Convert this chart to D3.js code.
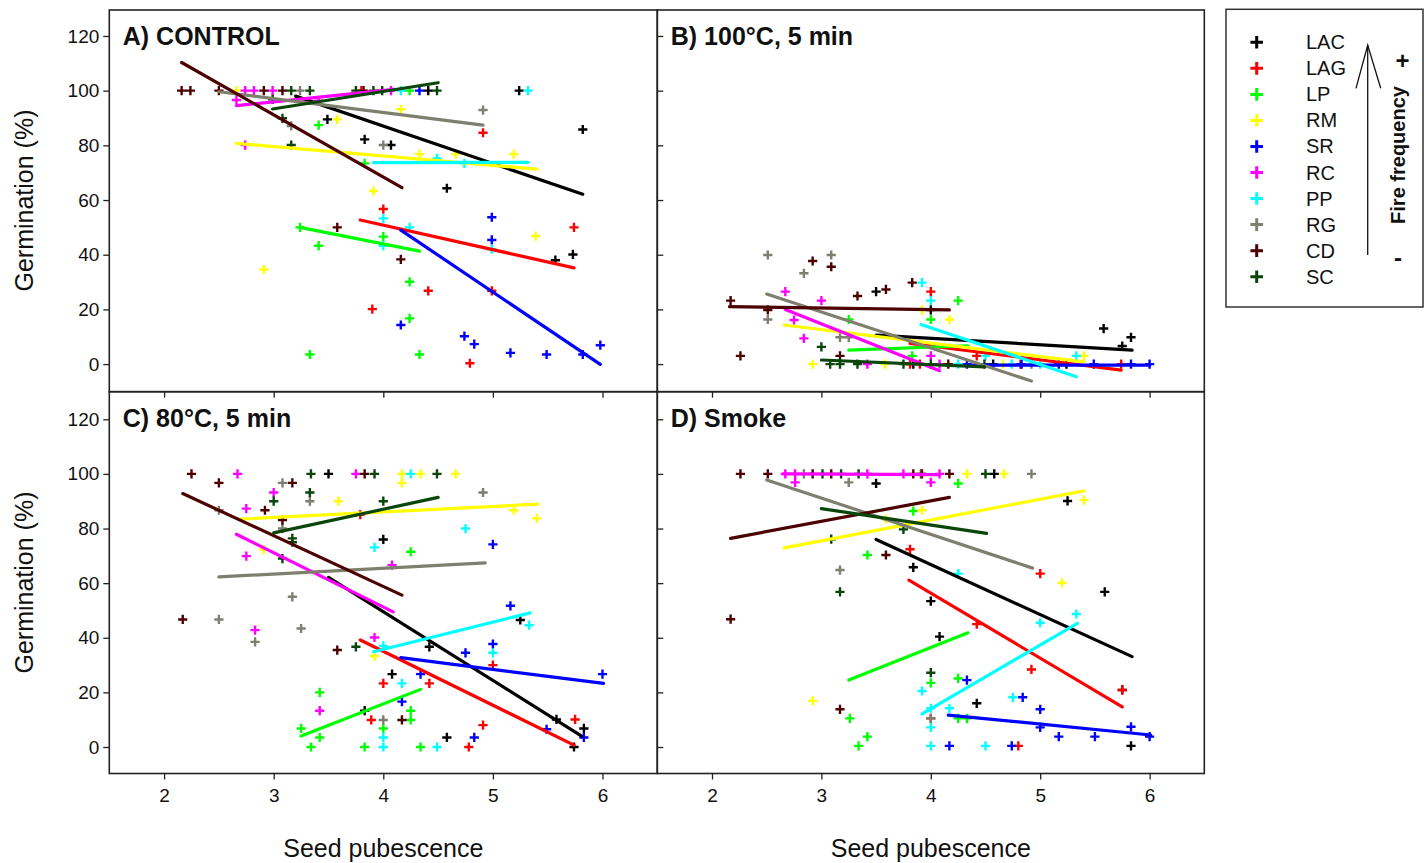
<!DOCTYPE html>
<html><head><meta charset="utf-8">
<script src="https://cdn.jsdelivr.net/npm/d3@7"></script>
<style>
body{margin:0;background:#fff}
svg{display:block}
text{font-family:Arial,"Liberation Sans",sans-serif;fill:#111}
</style>
</head><body>
<svg id="chart" width="1426" height="863"></svg>
<script>
const species = ["LAC","LAG","LP","RM","SR","RC","PP","RG","CD","SC"];
const speciesColors = ["#000000","#ff0000","#00ff00","#ffff00","#0000ff","#ff00ff","#00ffff","#7f7f6f","#4d0000","#0a460a"];
const xTicks = [2,3,4,5,6];
const yTicks = [0,20,40,60,80,100,120];
const panelTitles = ["A) CONTROL","B) 100°C, 5 min","C) 80°C, 5 min","D) Smoke"];

// Panel A: CONTROL  [species, pubescence, germination %]
const pointsA = [
 ["LAC",3.49,89.5],["LAC",3.83,82.2],["LAC",4.07,80.1],["LAC",4.41,100],["LAC",5.24,100],["LAC",5.82,85.8],["LAC",4.58,64.3],["LAC",5.73,40.1],["LAC",5.57,38],
 ["LAG",3.80,100],["LAG",4.0,56.7],["LAG",3.90,20.1],["LAG",4.91,84.6],["LAG",5.74,50],["LAG",4.41,26.8],["LAG",4.99,26.8],["LAG",4.79,0.3],
 ["LP",3.41,87.4],["LP",3.83,73.4],["LP",3.24,50],["LP",3.41,43.3],["LP",4.0,46.6],["LP",3.33,3.5],["LP",4.24,100],["LP",4.24,30.1],["LP",4.24,16.7],["LP",4.33,3.5],
 ["RM",2.66,100],["RM",3.58,89.5],["RM",3.91,63.3],["RM",2.91,34.6],["RM",4.16,93.2],["RM",4.33,76.8],["RM",4.66,76.8],["RM",5.19,76.8],["RM",5.39,46.8],
 ["SR",4.33,100],["SR",4.99,53.7],["SR",4.99,45.4],["SR",4.16,14.3],["SR",4.74,10.2],["SR",4.83,7.3],["SR",5.16,4.1],["SR",5.49,3.5],["SR",5.82,3.5],["SR",5.98,6.9],
 ["RC",2.74,100],["RC",2.82,100],["RC",2.99,100],["RC",4.07,100],["RC",2.66,96.6],["RC",3.41,96.3],["RC",2.74,80.1],
 ["PP",4.16,100],["PP",5.32,100],["PP",4.0,53.3],["PP",4.0,43.3],["PP",4.49,75.2],["PP",4.74,73.4],["PP",4.24,50],["PP",4.99,42],
 ["RG",3.24,100],["RG",3.16,87.1],["RG",4.0,80.1],["RG",4.91,92.9],
 ["CD",2.16,100],["CD",2.24,100],["CD",2.5,100],["CD",2.91,100],["CD",3.08,100],["CD",3.82,100],["CD",3.58,50],["CD",4.16,38.3],
 ["SC",3.16,100],["SC",3.33,100],["SC",3.75,100],["SC",3.91,100],["SC",3.99,100],["SC",4.49,100],["SC",2.99,96.8],["SC",3.08,89.9],["SC",3.16,80.1]
];
// regression lines [species, x1, y1, x2, y2]
const fitsA = [
 ["LAC",3.2,98.0,5.82,62.1],["LAG",3.79,52.7,5.74,35.2],["LP",3.24,50,4.33,41.3],["RM",2.66,80.7,5.40,71.3],
 ["SR",4.16,49,5.98,-0.1],["RC",2.66,94.5,4.1,100.5],["PP",3.91,73.7,5.32,73.8],["RG",2.5,99.6,4.91,87.4],
 ["CD",2.16,110.3,4.17,64.5],["SC",2.99,93.3,4.50,102.9]
];

// Panel B: 100°C, 5 min
const pointsB = [
 ["LAC",3.50,26.5],["LAC",4.0,19.8],["LAC",5.58,13.0],["LAC",5.83,9.8],["LAC",5.75,6.6],["LAC",3.84,0],["LAC",4.57,0],["LAC",5.24,0],
 ["LAG",4.0,26.5],["LAG",3.81,0],["LAG",3.90,0],["LAG",4.42,3],["LAG",4.82,0],["LAG",5.74,0],
 ["LP",4.25,23.2],["LP",3.25,16.3],["LP",4.0,16.3],["LP",3.83,3.0],
 ["RM",3.92,19.8],["RM",4.17,16.3],["RM",5.40,3.0],["RM",2.92,0],["RM",3.58,0],["RM",4.66,0],
 ["SR",4.33,0],["SR",4.83,0],["SR",5.17,0],["SR",5.49,0],["SR",5.83,0],["SR",6.0,0],
 ["RC",2.67,26.5],["RC",3.0,23.2],["RC",2.75,16.1],["RC",2.84,9.4],["RC",4.0,3.0],["RC",3.42,0],["RC",4.08,0],
 ["PP",3.92,29.8],["PP",4.0,23.2],["PP",5.33,3.0],["PP",4.25,0],["PP",4.50,3.0],["PP",4.74,0],["PP",5.0,0],
 ["RG",2.51,39.9],["RG",3.09,39.9],["RG",2.84,33.2],["RG",2.51,16.3],["RG",3.17,9.8],["RG",3.25,9.8],["RG",4.92,0],
 ["CD",2.92,37.7],["CD",3.09,35.6],["CD",3.83,29.8],["CD",3.59,27.3],["CD",3.33,24.9],["CD",2.17,23.2],["CD",2.51,19.8],["CD",2.26,3.0],["CD",3.17,3.0],["CD",4.16,0],
 ["SC",3.0,6.3],["SC",3.08,0],["SC",3.17,0],["SC",3.33,0],["SC",3.75,0],["SC",4.0,0],["SC",4.49,0]
];
const fitsB = [
 ["LAC",3.50,10.6,5.84,5.1],["LAG",3.81,7.6,5.74,-2.2],["LP",3.25,5.1,4.34,6.7],["RM",2.66,14.3,5.40,0.8],
 ["SR",4.33,-0.4,6.0,-0.4],["RC",2.67,20.0,4.08,-2.4],["PP",3.91,14.5,5.33,-4.6],["RG",2.50,25.6,4.92,-6.2],
 ["CD",2.16,21.0,4.17,19.8],["SC",3.0,1.5,4.49,-1.0]
];

// Panel C: 80°C, 5 min
const pointsC = [
 ["LAC",3.50,100],["LAC",4.0,76.0],["LAC",4.42,36.7],["LAC",4.08,26.7],["LAC",3.83,13.3],["LAC",4.58,3.5],["LAC",5.25,46.5],["LAC",5.58,10.1],["LAC",5.83,6.8],["LAC",5.74,0],
 ["LAG",3.79,85.1],["LAG",4.0,23.3],["LAG",4.42,23.3],["LAG",3.89,9.9],["LAG",4.78,0],["LAG",5.0,30.0],["LAG",4.91,8.0],["LAG",5.75,10.1],
 ["LP",4.25,71.5],["LP",3.42,20.0],["LP",4.25,13.3],["LP",4.25,9.9],["LP",3.25,6.8],["LP",4.0,6.8],["LP",3.42,3.5],["LP",3.34,0],["LP",3.83,0],["LP",4.34,0],
 ["RM",4.17,100],["RM",4.34,100],["RM",4.66,100],["RM",4.17,96.7],["RM",3.59,90.0],["RM",2.91,72.3],["RM",3.92,33.3],["RM",5.19,86.7],["RM",5.40,83.7],
 ["SR",4.75,34.5],["SR",4.34,26.7],["SR",4.17,16.6],["SR",5.0,74.2],["SR",5.16,51.7],["SR",5.0,37.7],["SR",6.0,26.7],["SR",5.49,6.5],["SR",5.83,3.5],["SR",4.83,3.5],
 ["RC",2.67,100],["RC",3.75,100],["RC",3.0,93.2],["RC",2.75,87.3],["RC",2.75,69.9],["RC",4.08,66.6],["RC",2.83,42.8],["RC",3.92,40.1],["RC",3.42,13.3],
 ["PP",4.25,100],["PP",4.75,80.0],["PP",3.92,73.1],["PP",4.0,37.0],["PP",4.17,23.3],["PP",4.0,3.5],["PP",4.0,0],["PP",4.49,0],["PP",5.33,44.6],["PP",5.0,34.5],
 ["RG",3.08,96.7],["RG",3.33,90.0],["RG",2.50,86.7],["RG",3.08,80.0],["RG",3.17,55.0],["RG",2.50,46.7],["RG",3.25,43.4],["RG",2.83,38.5],["RG",4.0,9.9],["RG",4.91,93.2],
 ["CD",2.25,100],["CD",3.83,100],["CD",2.50,96.7],["CD",3.17,96.7],["CD",2.92,86.7],["CD",3.08,83.1],["CD",2.17,46.7],["CD",3.58,35.5],["CD",4.17,9.9],
 ["SC",3.34,100],["SC",3.92,100],["SC",4.49,100],["SC",3.33,93.2],["SC",3.0,90.0],["SC",4.0,90.0],["SC",3.17,76.4],["SC",3.17,75.0],["SC",3.08,69.0],["SC",3.75,36.7]
];
const fitsC = [
 ["LAC",3.50,62.1,5.81,4.0],["LAG",3.79,39.2,5.74,0.7],["LP",3.25,4.0,4.34,21.1],["RM",2.68,83.4,5.41,88.9],
 ["SR",4.16,32.7,6.01,23.3],["RC",2.66,77.9,4.09,49.5],["PP",3.91,34.9,5.34,49.1],["RG",2.50,62.3,4.93,67.4],
 ["CD",2.17,92.8,4.17,55.6],["SC",3.0,78.4,4.50,91.4]
];

// Panel D: Smoke
const pointsD = [
 ["LAC",4.58,100],["LAC",3.50,96.5],["LAC",3.84,65.8],["LAC",4.0,53.4],["LAC",4.08,40.4],["LAC",4.42,16.0],["LAC",5.25,90.1],["LAC",5.59,56.8],["LAC",5.75,20.9],["LAC",5.83,0.4],
 ["LAG",3.91,100],["LAG",3.81,72.4],["LAG",5.0,63.5],["LAG",4.42,45.0],["LAG",4.92,28.4],["LAG",5.75,20.9],["LAG",4.80,0.4],["LAG",4.0,10.5],
 ["LP",4.25,96.5],["LP",3.84,86.4],["LP",3.42,70.3],["LP",4.0,23.5],["LP",4.25,25.1],["LP",3.26,10.5],["LP",4.25,10.5],["LP",4.33,10.5],["LP",3.42,3.8],["LP",3.34,0.4],
 ["RM",4.33,100],["RM",4.67,100],["RM",3.92,86.7],["RM",3.59,83.4],["RM",2.92,16.9],["RM",5.40,90.4],["RM",5.20,60.1],
 ["SR",4.33,24.5],["SR",4.84,18.2],["SR",5.0,13.8],["SR",5.0,7.2],["SR",5.17,3.8],["SR",5.50,3.8],["SR",5.83,7.4],["SR",6.0,3.8],["SR",4.17,0.4],["SR",4.74,0.4],
 ["RC",2.67,100],["RC",2.76,100],["RC",3.42,100],["RC",3.75,100],["RC",4.08,100],["RC",2.76,96.9],["RC",4.0,96.9],
 ["PP",4.25,63.5],["PP",3.92,20.5],["PP",4.0,14.2],["PP",4.17,14.2],["PP",4.0,7.2],["PP",4.0,0.4],["PP",4.50,0.4],["PP",5.33,48.7],["PP",5.0,45.5],["PP",4.75,18.2],
 ["RG",2.84,100],["RG",4.92,100],["RG",3.25,96.9],["RG",3.17,64.8],["RG",4.0,10.5],
 ["CD",2.26,100],["CD",2.51,100],["CD",2.92,100],["CD",3.09,100],["CD",3.84,100],["CD",4.17,100],["CD",3.59,70.3],["CD",2.17,46.8],["CD",3.17,13.8],
 ["SC",3.01,100],["SC",3.18,100],["SC",3.34,100],["SC",3.92,100],["SC",4.50,100],["SC",3.75,79.7],["SC",3.09,76.1],["SC",3.17,56.8],["SC",4.0,27.2]
];
const fitsD = [
 ["LAC",3.50,76.0,5.84,33.1],["LAG",3.80,61.1,5.75,14.7],["LP",3.25,24.5,4.34,41.8],["RM",2.66,72.9,5.40,93.8],
 ["SR",4.16,11.7,6.01,4.4],["RC",2.65,100,4.08,99.7],["PP",3.92,12.1,5.34,45.3],["RG",2.50,97.8,4.93,65.5],
 ["CD",2.17,76.4,4.17,91.4],["SC",3.0,87.3,4.51,78.2]
];

const color = d3.scaleOrdinal().domain(species).range(speciesColors);
const svg = d3.select("#chart");

const X0 = 109.3, XM = 657.3, X1 = 1204.3;
const Y0 = 10, YM = 391.7, Y1 = 773.5;

const panels = [
  {title: panelTitles[0], pts: pointsA, fits: fitsA, l: X0, r: XM, t: Y0, b: YM, dom: [-10.1,129.5], left: true,  bottom: false},
  {title: panelTitles[1], pts: pointsB, fits: fitsB, l: XM, r: X1, t: Y0, b: YM, dom: [-10.1,129.5], left: false, bottom: false},
  {title: panelTitles[2], pts: pointsC, fits: fitsC, l: X0, r: XM, t: YM, b: Y1, dom: [-9.7,130.1], left: true,  bottom: true},
  {title: panelTitles[3], pts: pointsD, fits: fitsD, l: XM, r: X1, t: YM, b: Y1, dom: [-9.7,130.1], left: false, bottom: true}
];

const cross = s => `M${-s},0H${s}M0,${-s}V${s}`;

panels.forEach(p => {
  const x = d3.scaleLinear().domain([1.5, 6.5]).range([p.l, p.r]);
  const y = d3.scaleLinear().domain(p.dom).range([p.b, p.t]);
  const g = svg.append("g");

  // y axis
  const ya = g.append("g").attr("transform", `translate(${p.l},0)`);
  if (p.left) {
    ya.call(d3.axisLeft(y).tickValues(yTicks).tickSize(6).tickSizeOuter(0).tickPadding(4));
    ya.selectAll("text").style("font-size", "19px").attr("fill", "#111");
  } else {
    ya.call(d3.axisRight(y).tickValues(yTicks).tickSize(6).tickSizeOuter(0).tickFormat(""));
  }
  ya.select(".domain").remove();
  ya.selectAll("line").attr("stroke", "#222").attr("stroke-width", 1.3);

  // x axis
  const xa = g.append("g").attr("transform", `translate(0,${p.b})`);
  xa.call(d3.axisBottom(x).tickValues(xTicks).tickSize(6).tickSizeOuter(0).tickPadding(9)
    .tickFormat(p.bottom ? d3.format("d") : ""));
  xa.select(".domain").remove();
  xa.selectAll("line").attr("stroke", "#222").attr("stroke-width", 1.3);
  xa.selectAll("text").style("font-size", "19px").attr("fill", "#111");

  // clip
  const cid = "clip" + Math.round(p.l) + "_" + Math.round(p.t);
  svg.append("clipPath").attr("id", cid).append("rect")
    .attr("x", p.l).attr("y", p.t).attr("width", p.r - p.l).attr("height", p.b - p.t);
  const plot = g.append("g").attr("clip-path", `url(#${cid})`);

  // points
  plot.selectAll("path.pt").data(p.pts).join("path")
    .attr("class", "pt")
    .attr("d", cross(4.6))
    .attr("transform", d => `translate(${x(d[1])},${y(d[2])})`)
    .attr("stroke", d => color(d[0]))
    .attr("stroke-width", 2.4)
    .attr("fill", "none");

  // regression lines
  plot.selectAll("line.fit").data(p.fits).join("line")
    .attr("class", "fit")
    .attr("x1", d => x(d[1])).attr("y1", d => y(d[2]))
    .attr("x2", d => x(d[3])).attr("y2", d => y(d[4]))
    .attr("stroke", d => color(d[0]))
    .attr("stroke-width", 3.2)
    .attr("stroke-linecap", "round");

  // frame
  g.append("rect").attr("x", p.l).attr("y", p.t)
    .attr("width", p.r - p.l).attr("height", p.b - p.t)
    .attr("fill", "none").attr("stroke", "#222").attr("stroke-width", 1.6);

  // title
  g.append("text").attr("x", p.l + 13.5).attr("y", p.t + 35)
    .style("font-size", "25px").style("font-weight", "bold").text(p.title);
});

// axis titles
[200.5, 582.5].forEach(cy => {
  svg.append("text").attr("transform", `translate(33,${cy}) rotate(-90)`)
    .attr("text-anchor", "middle").style("font-size", "25px").text("Germination (%)");
});
[(X0 + XM) / 2, (XM + X1) / 2].forEach(cx => {
  svg.append("text").attr("x", cx).attr("y", 857).attr("text-anchor", "middle")
    .style("font-size", "25px").text("Seed pubescence");
});

// legend
const lg = svg.append("g");
lg.append("rect").attr("x", 1226).attr("y", 9.3).attr("width", 197).attr("height", 297.7)
  .attr("fill", "#fff").attr("stroke", "#333").attr("stroke-width", 1.5);
const rowY = d3.scalePoint().domain(species).range([42.3, 276.7]);
species.forEach(s => {
  lg.append("path").attr("d", cross(6.3))
    .attr("transform", `translate(1256.7,${rowY(s)})`)
    .attr("stroke", color(s)).attr("stroke-width", 3).attr("fill", "none");
  lg.append("text").attr("x", 1306).attr("y", rowY(s) + 7)
    .style("font-size", "20px").text(s);
});
// arrow
lg.append("line").attr("x1", 1367.7).attr("y1", 255).attr("x2", 1367.7).attr("y2", 45)
  .attr("stroke", "#111").attr("stroke-width", 1.3);
lg.append("path").attr("d", "M1356,88.3L1367.7,45L1380.7,88.3")
  .attr("stroke", "#111").attr("stroke-width", 1.3).attr("fill", "none");
lg.append("text").attr("transform", "translate(1405,155) rotate(-90)")
  .attr("text-anchor", "middle").style("font-size", "20px").style("font-weight", "bold")
  .text("Fire frequency");
lg.append("text").attr("x", 1402.5).attr("y", 69).attr("text-anchor", "middle")
  .style("font-size", "24px").style("font-weight", "bold").text("+");
lg.append("text").attr("x", 1398).attr("y", 266).attr("text-anchor", "middle")
  .style("font-size", "24px").style("font-weight", "bold").text("-");
</script>
</body></html>
